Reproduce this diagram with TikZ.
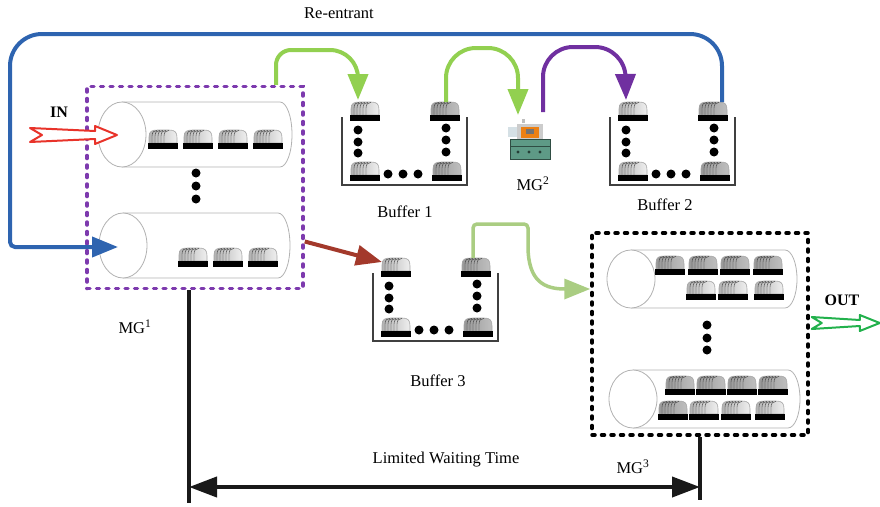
\documentclass[tikz,border=0pt]{standalone}
\usepackage{fontspec}
\setmainfont{Liberation Serif}
\usetikzlibrary{arrows.meta,positioning,calc}
\definecolor{flow-blue}{HTML}{2E64B0}
\definecolor{flow-green}{HTML}{92D050}
\definecolor{flow-lime}{HTML}{AACD82}
\definecolor{flow-purple}{HTML}{7030A0}
\definecolor{flow-brown}{HTML}{A3392B}
\definecolor{box-purple}{HTML}{7D3AAE}
\definecolor{in-red}{HTML}{E8332A}
\definecolor{out-green}{HTML}{22B14C}
\definecolor{mach-body}{HTML}{5E9A86}

\tikzset{
  wlight/.style={left color=gray!60, right color=gray!12},
  wdark/.style={left color=gray!80, right color=gray!50},
  pics/cassette/.style={code={
    \path[#1, draw=gray!70, line width=0.6pt]
      (1,13) -- (1,7) .. controls (1,1) and (4,0) .. (10,0) -- (21,0)
      .. controls (27,0) and (29,2) .. (29,8) -- (29,13) -- cycle;
    \foreach \s in {4,7,10,13,16}
      \draw[gray!40!black, line width=0.4pt] (\s,13) -- (\s,6) .. controls (\s,2) and (\s+2,0.5) .. (\s+5,0.4);
    \fill[black] (0,13) rectangle (30,19);
  }},
  pics/machine/.style={code={
    \fill[cyan!25!gray!30] (0,9) rectangle (11,19);
    \fill[gray!40] (9,6) rectangle (35,22);
    \fill[orange!70!brown] (13,9) rectangle (31,20);
    \fill[black!55] (18,11) rectangle (26,16);
    \fill[gray!50] (14,1) rectangle (17,5);
    \fill[mach-body] (2,21) rectangle (42,41);
    \draw[mach-body!50!black, line width=0.6pt] (2,21) rectangle (42,41) (2,28) -- (42,28);
    \foreach \mx in {10,21,32}
      \fill[mach-body!40!black] (\mx,34) circle[radius=1.6];
  }},
}

% horizontal tube: left centre x, top y, bottom y, right end x
\newcommand{\tube}[4]{%
  \draw[gray!60, line width=0.8pt, fill=white] (#1,#2) -- (#4-12,#2)
    arc[start angle=-90, end angle=90, x radius=12, y radius={(#3-#2)/2}] -- (#1,#3);
  \draw[gray!60, line width=0.8pt, fill=white] (#1,{(#2+#3)/2})
    ellipse [x radius=24, y radius={(#3-#2)/2}];
}

% buffer: name, left wall x, top of walls y
\newcommand{\buffer}[3]{%
  \draw[black!75, line width=1.2pt] (#2,#3) -- (#2,#3+68) -- (#2+125,#3+68) -- (#2+125,#3);
  \pic at (#2+8,#3-15) {cassette=wlight};
  \pic at (#2+88,#3-15) {cassette=wdark};
  \pic at (#2+8,#3+45) {cassette=wlight};
  \pic at (#2+90,#3+45) {cassette=wdark};
  \foreach \dy in {13,25,36} \fill (#2+16,#3+\dy) circle[radius=4.5];
  \foreach \dy in {11,23,35} \fill (#2+104,#3+\dy) circle[radius=4.5];
  \foreach \dx in {46,61,76} \fill (#2+\dx,#3+57) circle[radius=4.5];
  \coordinate (#1-in) at (#2+16,#3-17);
  \coordinate (#1-out) at (#2+104,#3-15);
}

\begin{document}
\begin{tikzpicture}[
    x=1pt, y=-1pt,
    lbl/.style={font=\fontsize{16.5}{19}\selectfont, inner sep=0},
    bold lbl/.style={font=\fontsize{16}{19}\selectfont\bfseries, inner sep=0},
    mgbox/.style={line width=3.5pt, dash pattern=on 3pt off 6.5pt, line cap=round,
                  inner sep=0, minimum width=216, minimum height=202},
    flow/.style={line width=4pt, -{Triangle[length=26pt, width=20pt]}},
    waitline/.style={line width=4pt, black!90},
]
  \useasboundingbox (0,0) rectangle (880,506);

  % MG1: two tubes of lots
  \tube{122}{102}{167}{292}
  \tube{123}{213}{278}{290}
  \foreach \x in {148,183,218,253} \pic at (\x,130) {cassette=wlight};
  \foreach \x in {178,213,248} \pic at (\x,248) {cassette=wlight};
  \foreach \y in {173,186,199} \fill (196,\y) circle[radius=4.5];
  \node[mgbox, draw=box-purple] (mg1) at (195,187.5) {};

  % MG3: two tubes, processed and waiting lots
  \tube{631}{250}{308}{797}
  \tube{633}{370}{428}{800}
  \foreach \x in {655,688,720,753} \pic at (\x,256) {cassette=wdark};
  \foreach \x in {686,718,754} \pic at (\x,281) {cassette=wlight};
  \foreach \x in {665,696,727,758} \pic at (\x,376) {cassette=wdark};
  \pic at (658,401) {cassette=wdark};
  \foreach \x in {689,721,755} \pic at (\x,401) {cassette=wlight};
  \foreach \y in {325,338,350} \fill (707,\y) circle[radius=4.5];
  \node[mgbox, draw=black] (mg3) at (700,334) {};

  % buffers and MG2
  \buffer{buf1}{342}{117}
  \buffer{buf2}{610}{117}
  \buffer{buf3}{373}{273}
  \pic at (508,118) {machine};
  \coordinate (mg2-in) at (518,115);
  \coordinate (mg2-out) at (543,112);

  % labels
  \node[lbl] (reentry) at (339,13) {Re-entrant};
  \node[bold lbl] (inlbl) at (59,112) {IN};
  \node[bold lbl] (outlbl) at (842,300) {OUT};
  \node[lbl] (b1lbl) at (405,212) {Buffer 1};
  \node[lbl] (b2lbl) at (665,205) {Buffer 2};
  \node[lbl] (b3lbl) at (438,381) {Buffer 3};
  \node[lbl] (mg1lbl) at (135,327) {MG\textsuperscript{1}};
  \node[lbl] (mg2lbl) at (533,184) {MG\textsuperscript{2}};
  \node[lbl] (mg3lbl) at (633,467) {MG\textsuperscript{3}};
  \node[lbl] (waitlbl) at (446,460) {Limited Waiting Time};

  % connectors
  \coordinate (mg1-in) at (118,247);
  \coordinate (mg1-top) at ([xshift=81pt]mg1.north);
  \coordinate (mg1-right) at ([yshift=-54pt]mg1.east);
  \coordinate (mg3-in) at ([yshift=45pt]mg3.west);
  \coordinate (buf3-side) at (382,262);

  \draw[flow, flow-blue] ([xshift=8pt]buf2-out) [rounded corners=32pt] -- (722,34) -- (10,34)
    [rounded corners=5pt] -- (10,247) -- (mg1-in);
  \draw[flow, flow-green] (mg1-top) [rounded corners=15pt] -- (276,50)
    [rounded corners=28pt] -- (358,50) -- (buf1-in);
  \draw[flow, flow-green] (buf1-out) [rounded corners=30pt] -- (446,48) -- (518,48) -- (mg2-in);
  \draw[flow, flow-purple] (mg2-out) [rounded corners=30pt] -- (543,47) -- (625,47) -- (buf2-in);
  \draw[flow, flow-brown] (mg1-right) -- (buf3-side);
  \draw[flow, flow-lime, line width=3.5pt] ([xshift=-4pt]buf3-out) [rounded corners=4pt] -- (473,224)
    -- (528,224) -- (528,242) [sharp corners] .. controls (528,282) and (545,289) .. (mg3-in);

  % lots entering and leaving
  \coordinate (in-tip) at (117,135);
  \coordinate (out-tip) at ([xshift=70pt, yshift=11pt]mg3.east);
  \draw[in-red, fill=white, line width=2pt, line join=round] (in-tip) -- ++(-22,9) -- ++(0,-5)
    -- ++(-65,3) -- ++(12,-7) -- ++(-12,-7) -- ++(65,3) -- ++(0,-5) -- cycle;
  \draw[out-green, fill=white, line width=2pt, line join=round] (out-tip) -- ++(-20,8) -- ++(0,-5)
    -- ++(-48,3) -- ++(10,-6) -- ++(-10,-6) -- ++(48,3) -- ++(0,-5) -- cycle;

  % waiting time window
  \coordinate (wl) at (189,503);
  \coordinate (wr) at (700,500);
  \coordinate (wa) at (189,487);
  \coordinate (wb) at (700,487);
  \draw[waitline] (wl |- mg1.south) -- (wl);
  \draw[waitline] (wr |- mg3.south) -- (wr);
  \draw[waitline, {Triangle[length=28pt, width=20pt]}-{Triangle[length=28pt, width=20pt]}] (wa) -- (wb);

\end{tikzpicture}
\end{document}
